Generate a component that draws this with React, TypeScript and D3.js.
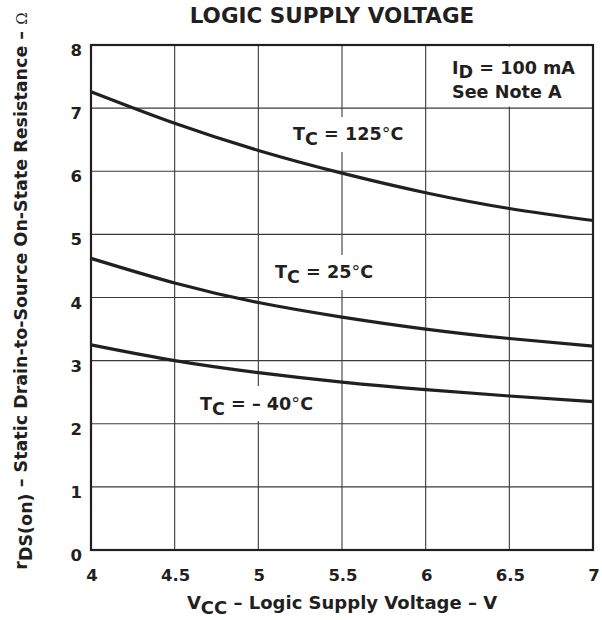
import * as React from 'react';
import * as d3 from 'd3';

const width = 602;
const height = 620;
const margin = {top: 45, right: 9, bottom: 70, left: 91};

const voltages = [4, 4.5, 5, 5.5, 6, 6.5, 7];
const r125 = [7.26, 6.76, 6.33, 5.97, 5.66, 5.41, 5.22];
const r25 = [4.62, 4.23, 3.92, 3.69, 3.50, 3.35, 3.23];
const rM40 = [3.25, 3.0, 2.81, 2.66, 2.54, 2.44, 2.35];

const xTicks = [4, 4.5, 5, 5.5, 6, 6.5, 7];
const yTicks = [0, 1, 2, 3, 4, 5, 6, 7, 8];

const font = '"DejaVu Sans", Verdana, sans-serif';
const ink = '#231f20';

const x = d3.scaleLinear().domain([4, 7]).range([margin.left, width - margin.right]);
const y = d3.scaleLinear().domain([0, 8]).range([height - margin.bottom, margin.top]);

const line = d3.line<[number, number]>()
  .x(d => x(d[0]))
  .y(d => y(d[1]))
  .curve(d3.curveNatural);

const series = [r125, r25, rM40];

export default function App() {
  const [x0, x1] = x.range();
  const [yb, yt] = y.range();
  return (
    <svg width={width} height={height} style={{position: 'absolute', left: 0, top: 0, background: '#fff'}}
      fontFamily={font} fontWeight="bold" fill={ink}>
      {/* grid */}
      {xTicks.slice(1, -1).map(t => (
        <line key={'gx' + t} x1={x(t)} x2={x(t)} y1={yt} y2={yb} stroke="#3a3a3a" strokeWidth={1.1} />
      ))}
      {yTicks.slice(1, -1).map(t => (
        <line key={'gy' + t} x1={x0} x2={x1} y1={y(t)} y2={y(t)} stroke="#3a3a3a" strokeWidth={1.1} />
      ))}
      {/* white patches behind labels */}
      <rect x={x(6.25)} y={y(8) + 1.5} width={x(6.75) - x(6.25)} height={y(7) - y(8) - 3} fill="#fff" />
      <rect x={x(5.5) - 4} y={117} width={8} height={35} fill="#fff" />
      <rect x={x(5.5) - 4} y={255} width={8} height={35} fill="#fff" />
      <rect x={x(5) - 4} y={386} width={8} height={35} fill="#fff" />
      {/* frame */}
      <rect x={x0} y={yt} width={x1 - x0} height={yb - yt} fill="none" stroke={ink} strokeWidth={2.2} />
      {/* curves */}
      {series.map((s, i) => (
        <path key={i} d={line(voltages.map((v, j) => [v, s[j]] as [number, number])) || ''}
          fill="none" stroke={ink} strokeWidth={3.2} />
      ))}
      {/* ticks */}
      {yTicks.map(t => (
        <text key={'yt' + t} x={x0 - 9} y={y(t) + 11} fontSize={16.5} textAnchor="end">{t}</text>
      ))}
      {xTicks.map(t => (
        <text key={'xt' + t} x={x(t) + 1} y={yb + 31} fontSize={16.5} textAnchor="middle">{t}</text>
      ))}
      {/* title */}
      <text x={332} y={23} fontSize={21.5} textAnchor="middle">LOGIC SUPPLY VOLTAGE</text>
      {/* x axis title */}
      <text x={342} y={609} fontSize={18} textAnchor="middle">
        V<tspan dy={5}>CC</tspan><tspan dy={-5}> – Logic Supply Voltage – V</tspan>
      </text>
      {/* y axis title */}
      <text transform="translate(27,291) rotate(-90)" fontSize={17.5} textAnchor="middle">
        r<tspan dy={5}>DS(on)</tspan><tspan dy={-5}> – Static Drain-to-Source On-State Resistance – </tspan>
        <tspan fontFamily="'DejaVu Serif', 'Liberation Serif', serif" fontWeight="normal" fontSize={15}>Ω</tspan>
      </text>
      {/* annotations */}
      <text x={452} y={74} fontSize={17.6}>
        I<tspan dy={4}>D</tspan><tspan dy={-4}> = 100 mA</tspan>
      </text>
      <text x={452} y={98} fontSize={17.6}>See Note A</text>
      <text x={293} y={140} fontSize={17.6}>
        T<tspan dy={5}>C</tspan><tspan dy={-5}> = 125</tspan><tspan fontWeight="normal">°</tspan>C
      </text>
      <text x={275} y={278} fontSize={17.6}>
        T<tspan dy={5}>C</tspan><tspan dy={-5}> = 25</tspan><tspan fontWeight="normal">°</tspan>C
      </text>
      <text x={200} y={410} fontSize={17.6}>
        T<tspan dy={5}>C</tspan><tspan dy={-5}> = – 40</tspan><tspan fontWeight="normal">°</tspan>C
      </text>
    </svg>
  );
}
